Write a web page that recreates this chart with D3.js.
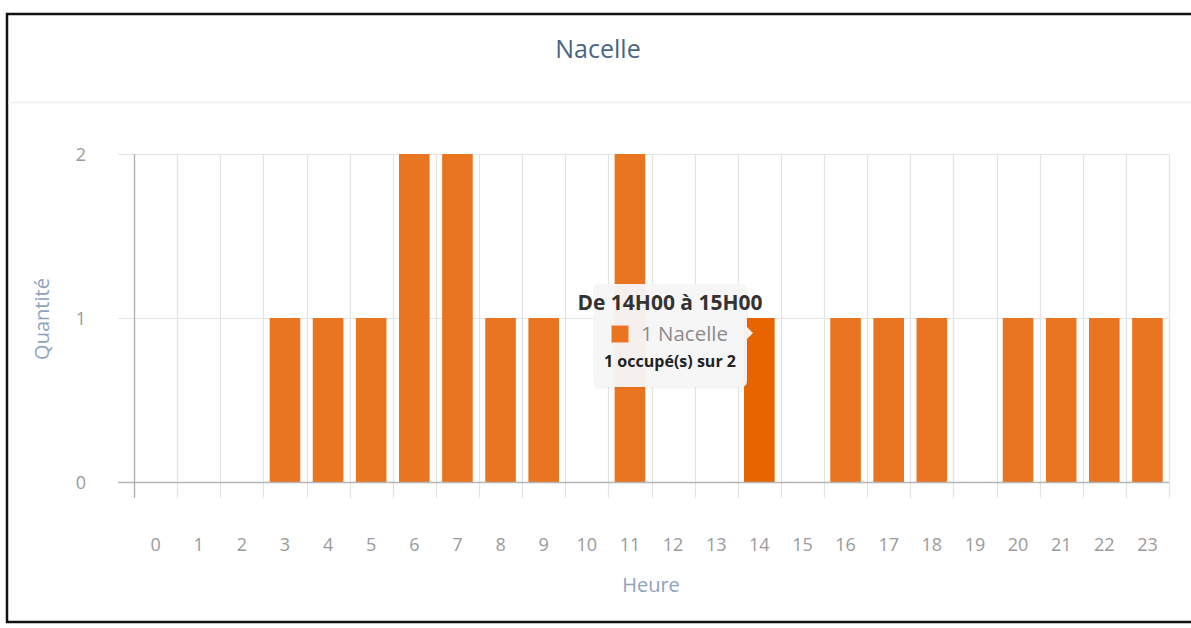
<!DOCTYPE html>
<html>
<head>
<meta charset="utf-8">
<script src="https://cdn.jsdelivr.net/npm/d3@7"></script>
<style>
  html, body { margin: 0; padding: 0; background: #ffffff; }
  svg { display: block; font-family: "Open Sans", "Noto Sans", sans-serif; }
</style>
</head>
<body>
<svg id="chart" width="1191" height="628"></svg>
<script>
// ---- data ----
const chartTitle = "Nacelle";
const hours = ["0","1","2","3","4","5","6","7","8","9","10","11","12","13","14","15","16","17","18","19","20","21","22","23"];
const quantities = [0,0,0,1,1,1,2,2,1,1,0,2,0,0,1,0,1,1,1,0,1,1,1,1];
const yTicks = [0, 1, 2];
const xTitle = "Heure";
const yTitle = "Quantité";
const hoveredHour = "14";
const tooltipTitle = "De 14H00 à 15H00";
const tooltipSeries = "1 Nacelle";
const tooltipFooter = "1 occupé(s) sur 2";

// ---- layout ----
const svg = d3.select("#chart");
const plot = { left: 134, right: 1169, top: 154, bottom: 482 };
const barColor = "#ea7520";
const hoverColor = "#e66500";

// frame
svg.append("rect").attr("x", 7).attr("y", 14).attr("width", 1200).attr("height", 608)
  .attr("fill", "#fff").attr("stroke", "#111").attr("stroke-width", 2.5);
// header separator
svg.append("line").attr("x1", 8).attr("x2", 1191).attr("y1", 102.5).attr("y2", 102.5)
  .attr("stroke", "#eeeeee").attr("stroke-width", 1.5);
// title
svg.append("text").attr("x", 598).attr("y", 58).attr("text-anchor", "middle")
  .attr("font-size", 25).attr("fill", "#4a6683").text(chartTitle);

// scales
const xGrid = d3.scaleBand().domain(hours).range([plot.left, plot.right]).padding(0);
const x = d3.scaleBand().domain(hours).range([plot.left, plot.right]).paddingInner(0.29).paddingOuter(0.145);
const y = d3.scaleLinear().domain([0, 2]).range([plot.bottom, plot.top]);

// horizontal grid
svg.append("g").selectAll("line").data(yTicks).join("line")
  .attr("x1", 118).attr("x2", plot.right)
  .attr("y1", d => Math.round(y(d)) + 0.5).attr("y2", d => Math.round(y(d)) + 0.5)
  .attr("stroke", "#e6e6e6").attr("stroke-width", 1);

// vertical grid + ticks at band boundaries
const bounds = hours.map(h => xGrid(h)).concat([plot.right]);
svg.append("g").selectAll("line").data(bounds).join("line")
  .attr("x1", d => Math.round(d) + 0.5).attr("x2", d => Math.round(d) + 0.5)
  .attr("y1", plot.top).attr("y2", 498)
  .attr("stroke", "#e3e3e3").attr("stroke-width", 1.2);

// bars
svg.append("g").selectAll("rect").data(hours.map((h, i) => ({ h, v: quantities[i] })).filter(d => d.v > 0))
  .join("rect")
  .attr("x", d => x(d.h)).attr("width", x.bandwidth())
  .attr("y", d => y(d.v)).attr("height", d => y(0) - y(d.v))
  .attr("fill", d => d.h === hoveredHour ? hoverColor : barColor);

// x axis line
svg.append("line").attr("x1", 118).attr("x2", plot.right).attr("y1", plot.bottom + 0.5).attr("y2", plot.bottom + 0.5)
  .attr("stroke", "#b5b5b5").attr("stroke-width", 1.3);
// y axis line
svg.append("line").attr("x1", plot.left + 0.5).attr("x2", plot.left + 0.5).attr("y1", plot.top).attr("y2", 498)
  .attr("stroke", "#b0b0b0").attr("stroke-width", 1.3);

// x axis labels
const xAxis = svg.append("g").attr("transform", `translate(0,${plot.bottom})`)
  .call(d3.axisBottom(xGrid).tickSize(0).tickPadding(0));
xAxis.select(".domain").remove();
xAxis.selectAll("text").attr("y", 69).attr("dy", null)
  .attr("font-size", 18).attr("fill", "#9a9a9a").attr("font-family", "'Open Sans', sans-serif");

// y axis labels
const yAxis = svg.append("g").attr("transform", `translate(86,0)`)
  .call(d3.axisLeft(y).tickValues(yTicks).tickFormat(d3.format("d")).tickSize(0).tickPadding(0));
yAxis.select(".domain").remove();
yAxis.selectAll("text").attr("dy", "0.35em")
  .attr("font-size", 18).attr("fill", "#9a9a9a").attr("font-family", "'Open Sans', sans-serif");

// axis titles
svg.append("text").attr("x", 651).attr("y", 592).attr("text-anchor", "middle")
  .attr("font-size", 20).attr("fill", "#8ea3bc").text(xTitle);
svg.append("text").attr("transform", "translate(49,319) rotate(-90)").attr("text-anchor", "middle")
  .attr("font-size", 20).attr("fill", "#8ea3bc").text(yTitle);

// tooltip
const tip = svg.append("g");
const tx0 = 593, tx1 = 747, ty0 = 284, ty1 = 387, r = 6, ay = 333;
const pathD = `M${tx0 + r},${ty0} H${tx1 - r} Q${tx1},${ty0} ${tx1},${ty0 + r} V${ay - 6} L${tx1 + 6},${ay} L${tx1},${ay + 6} V${ty1 - r} Q${tx1},${ty1} ${tx1 - r},${ty1} H${tx0 + r} Q${tx0},${ty1} ${tx0},${ty1 - r} V${ty0 + r} Q${tx0},${ty0} ${tx0 + r},${ty0} Z`;
tip.append("path").attr("d", pathD).attr("fill", "#000").attr("opacity", 0.04).attr("transform", "translate(1,1.5)");
tip.append("path").attr("d", pathD).attr("fill", "#f6f6f6").attr("fill-opacity", 0.96);
tip.append("text").attr("x", 670).attr("y", 310).attr("text-anchor", "middle")
  .attr("font-size", 20.5).attr("font-weight", "bold").attr("fill", "#333")
  .attr("textLength", 185).attr("lengthAdjust", "spacingAndGlyphs").text(tooltipTitle);
tip.append("rect").attr("x", 611.5).attr("y", 325.5).attr("width", 17).attr("height", 17)
  .attr("fill", barColor).attr("stroke", "#f3b78c").attr("stroke-width", 1);
tip.append("text").attr("x", 641).attr("y", 341)
  .attr("font-size", 20.5).attr("fill", "#8c8c8c")
  .attr("textLength", 87).attr("lengthAdjust", "spacingAndGlyphs").text(tooltipSeries);
tip.append("text").attr("x", 670).attr("y", 367).attr("text-anchor", "middle")
  .attr("font-size", 15.5).attr("font-weight", "bold").attr("fill", "#222")
  .attr("textLength", 132).attr("lengthAdjust", "spacingAndGlyphs").text(tooltipFooter);
</script>
</body>
</html>
